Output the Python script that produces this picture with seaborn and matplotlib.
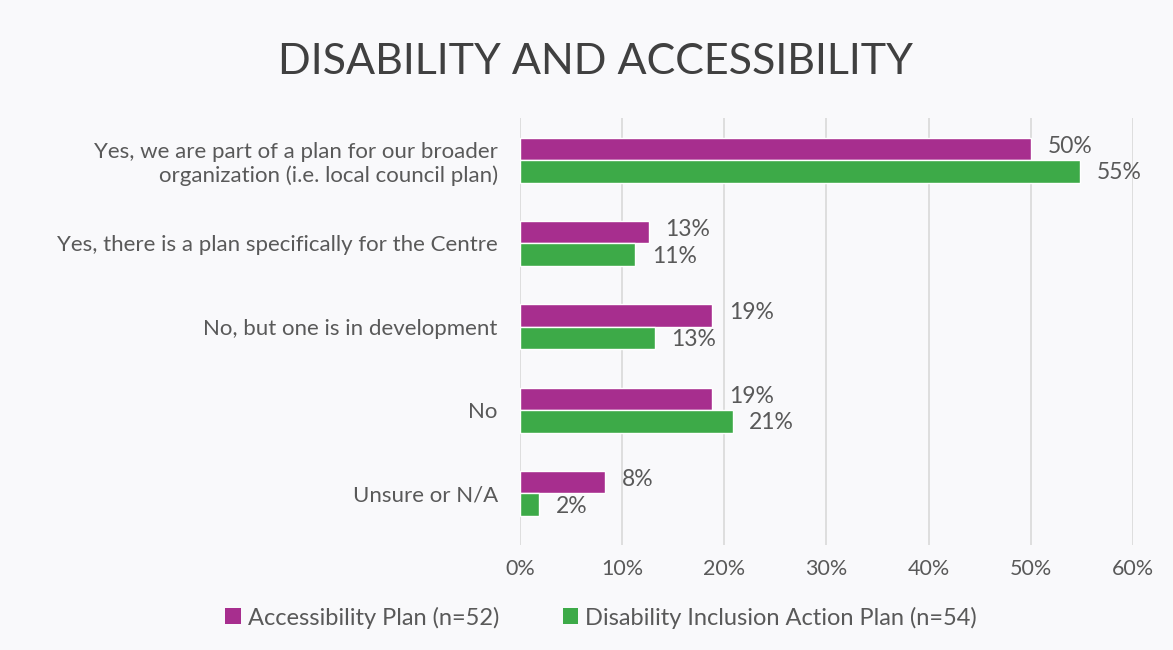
import matplotlib
matplotlib.use("Agg")
import matplotlib.pyplot as plt
import seaborn as sns
import pandas as pd
from matplotlib.patches import Patch

categories = [
    "Yes, we are part of a plan for our broader\norganization (i.e. local council plan)",
    "Yes, there is a plan specifically for the Centre",
    "No, but one is in development",
    "No",
    "Unsure or N/A",
]
series_names = ["Accessibility Plan (n=52)", "Disability Inclusion Action Plan (n=54)"]
accessibility_plan = [50.0, 12.6, 18.8, 18.8, 8.3]
inclusion_plan = [54.8, 11.3, 13.2, 20.8, 1.9]
x_ticks = [0, 10, 20, 30, 40, 50, 60]

colors = ["#A72E8E", "#3DAA48"]
bg = "#F9F9FB"
text_col = "#595959"

df = pd.DataFrame({
    "category": categories * 2,
    "series": [series_names[0]] * 5 + [series_names[1]] * 5,
    "value": accessibility_plan + inclusion_plan,
})

sns.set_theme(style="white")
plt.rcParams["font.family"] = ["Lato", "DejaVu Sans"]

fig = plt.figure(figsize=(11.73, 6.5), dpi=100, facecolor=bg)
ax = fig.add_axes([0.4433, 0.1615, 0.5226, 0.657])
ax.set_facecolor(bg)

sns.barplot(data=df, y="category", x="value", hue="series", order=categories,
            hue_order=series_names, palette=colors, width=0.54, orient="h",
            saturation=1, legend=False, ax=ax, zorder=3)

# value labels: first series nudged up, second nudged down
for i, container in enumerate(ax.containers):
    dy = 2 if i == 0 else -1
    for patch in container:
        w = patch.get_width()
        ax.annotate(f"{w:.0f}%", xy=(w, patch.get_y() + patch.get_height() / 2),
                    xytext=(12, dy), textcoords="offset points", ha="left", va="center",
                    fontsize=16.5, color=text_col)

ax.set_xlim(0, 60)
ax.set_ylim(4.62, -0.505)
ax.set_xticks(x_ticks)
ax.set_xticklabels([f"{t}%" for t in x_ticks], fontsize=15.5, color=text_col)
ax.tick_params(axis="y", labelsize=16, labelcolor=text_col, length=0, pad=16)
ax.tick_params(axis="x", length=0, pad=10)
for lbl in ax.get_yticklabels():
    lbl.set_horizontalalignment("right")
    lbl.set_multialignment("right")
ax.set_xlabel("")
ax.set_ylabel("")
ax.grid(axis="x", color="#D9D9D9", linewidth=1.2, zorder=0)
ax.grid(axis="y", visible=False)
for s in ax.spines.values():
    s.set_visible(False)

fig.suptitle("DISABILITY AND ACCESSIBILITY", x=0.508, y=0.905, fontsize=31,
             color="#404040", va="center")

handles = [Patch(facecolor=c, edgecolor="none") for c in colors]
fig.legend(handles, series_names, loc="center", bbox_to_anchor=(0.5125, 0.05), ncol=2,
           frameon=False, fontsize=17, labelcolor=text_col, handlelength=0.65,
           handleheight=0.65, handletextpad=0.3, columnspacing=2.7)

fig.savefig("out.png", dpi=100, facecolor=bg)
